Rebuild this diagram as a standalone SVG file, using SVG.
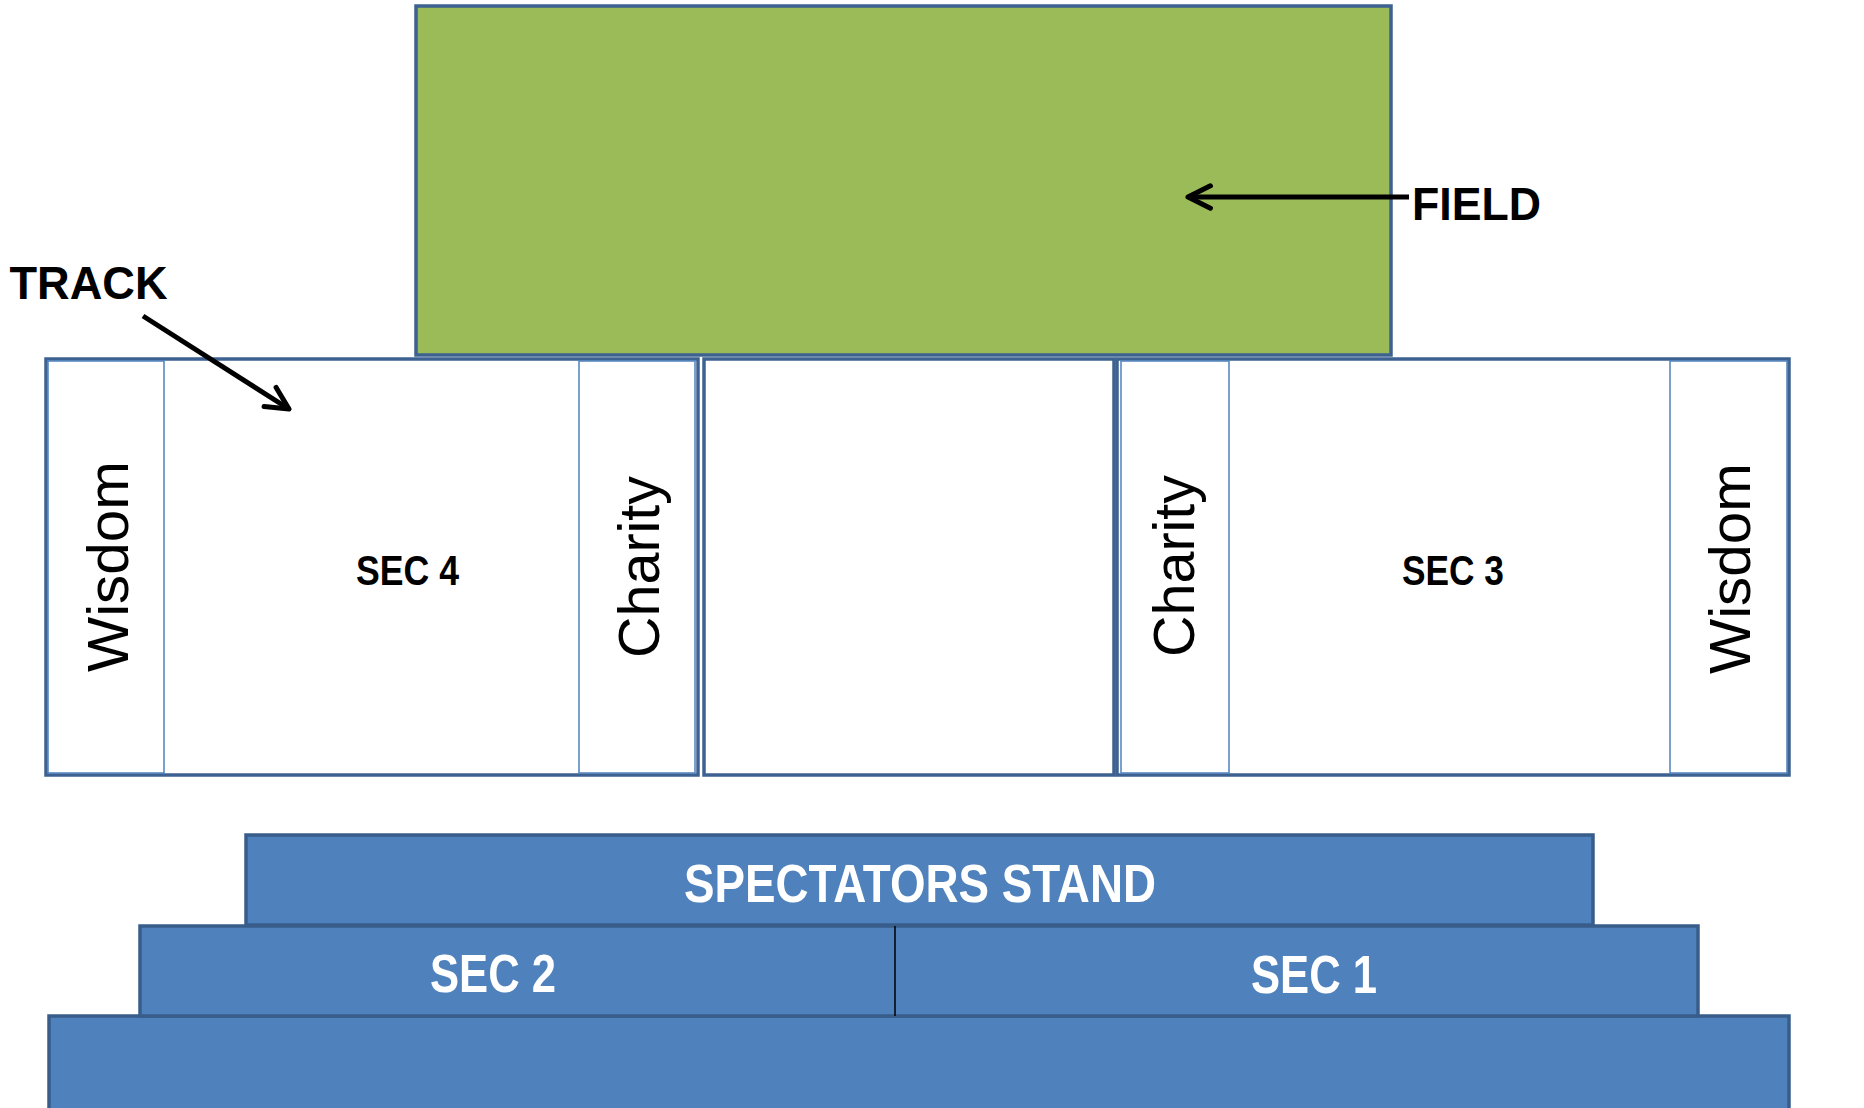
<svg xmlns="http://www.w3.org/2000/svg" width="1864" height="1108" viewBox="0 0 1864 1108">
<defs>
<style>
.lbl{font-family:"Liberation Sans",Arial,sans-serif;font-weight:bold;fill:#000}
.rot{font-family:"Liberation Sans",Arial,sans-serif;font-size:58px;fill:#000;text-anchor:middle}
.wt{font-family:"Liberation Sans",Arial,sans-serif;font-weight:bold;fill:#fff}
.box{fill:#fff;stroke:#3d6190;stroke-width:3.5}
.cell{fill:none;stroke:#4f81bd;stroke-width:1.5}
.stand{fill:#4f81bd;stroke:#385d8a;stroke-width:3.5}
.arr{stroke:#000;stroke-width:5;fill:none;marker-end:url(#chev)}
</style>
<marker id="chev" viewBox="0 0 10 10" refX="9" refY="5" markerWidth="5.6" markerHeight="5.6" orient="auto" markerUnits="strokeWidth">
<path d="M1,1 L9,5 L1,9" fill="none" stroke="#000" stroke-width="1.8" stroke-linecap="round" stroke-linejoin="round"/>
</marker>
</defs>
<rect width="1864" height="1108" fill="#fff"/>

<g id="field">
<rect x="416" y="6" width="975" height="349" fill="#9bbb59" stroke="#3d6190" stroke-width="3.5"/>
</g>

<g id="track-left">
<rect class="box" x="46" y="359" width="652" height="416"/>
<rect class="cell" x="48" y="361" width="116" height="412"/>
<rect class="cell" x="579" y="361" width="116" height="412"/>
<text class="rot" transform="translate(128,566.5) rotate(-90)" textLength="211" lengthAdjust="spacingAndGlyphs">Wisdom</text>
<text class="lbl" x="356" y="585" font-size="42" textLength="103" lengthAdjust="spacingAndGlyphs">SEC 4</text>
<text class="rot" transform="translate(659,567) rotate(-90)" textLength="182" lengthAdjust="spacingAndGlyphs">Charity</text>
</g>

<g id="track-middle">
<rect class="box" x="704" y="359" width="410" height="416"/>
</g>

<g id="track-right">
<rect class="box" x="1117" y="359" width="672" height="416"/>
<rect class="cell" x="1121" y="361" width="108" height="412"/>
<rect class="cell" x="1670" y="361" width="117" height="412"/>
<text class="rot" transform="translate(1194,566) rotate(-90)" textLength="182" lengthAdjust="spacingAndGlyphs">Charity</text>
<text class="lbl" x="1402" y="585" font-size="42" textLength="102" lengthAdjust="spacingAndGlyphs">SEC 3</text>
<text class="rot" transform="translate(1750,568.5) rotate(-90)" textLength="211" lengthAdjust="spacingAndGlyphs">Wisdom</text>
</g>

<g id="stand-top">
<rect class="stand" x="246" y="835" width="1347" height="90"/>
<text class="wt" x="684" y="902" font-size="53" textLength="472" lengthAdjust="spacingAndGlyphs">SPECTATORS STAND</text>
</g>
<g id="stand-bottom">
<rect class="stand" x="49" y="1016" width="1740" height="100"/>
</g>
<g id="stand-middle">
<rect class="stand" x="140" y="926" width="1558" height="90"/>
<line x1="895" y1="926" x2="895" y2="1016" stroke="#000" stroke-width="1.5"/>
<text class="wt" x="430" y="992" font-size="54" textLength="126" lengthAdjust="spacingAndGlyphs">SEC 2</text>
<text class="wt" x="1251" y="993" font-size="54" textLength="126" lengthAdjust="spacingAndGlyphs">SEC 1</text>
</g>

<g id="labels">
<text class="lbl" x="9.5" y="299" font-size="47" textLength="158" lengthAdjust="spacingAndGlyphs">TRACK</text>
<text class="lbl" x="1412" y="220" font-size="46" textLength="129" lengthAdjust="spacingAndGlyphs">FIELD</text>
</g>

<g id="connectors">
<line class="arr" x1="143" y1="316" x2="289" y2="409"/>
<line class="arr" x1="1409" y1="197" x2="1188" y2="197"/>
</g>
</svg>
